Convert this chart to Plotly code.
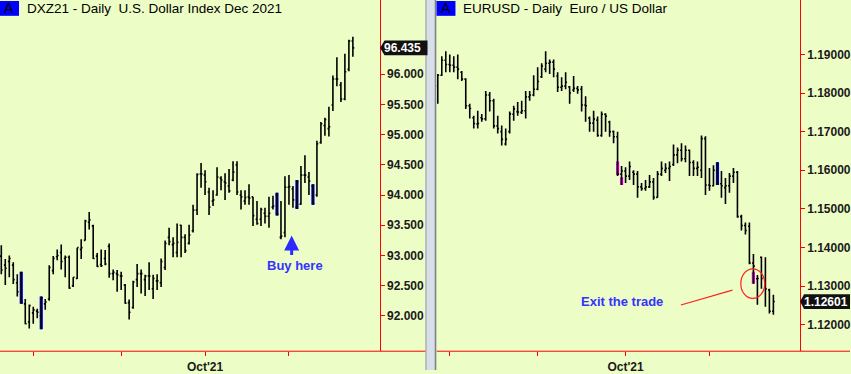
import plotly.graph_objects as go

W, H = 851, 374
BG = "#EDFDC6"
FONT = "Liberation Sans, Arial, sans-serif"

# ---------------- DXZ21 daily bars ----------------
dxy_open = [92.99, 92.84, 92.90, 92.84, 92.55, 92.70, 92.20, 91.90, 92.05, 92.08,
            92.00, 92.20, 92.28, 92.75, 92.98, 93.05, 92.95, 92.97, 92.50, 92.62,
            93.10, 93.25, 93.55, 93.49, 92.99, 92.85, 92.95, 93.15, 92.70, 92.70,
            92.66, 92.51, 92.22, 92.14, 92.60, 92.70, 92.60, 92.66, 92.45, 92.58,
            92.55, 92.80, 93.30, 93.18, 93.05, 93.50, 93.30, 93.20, 93.41, 93.75,
            94.35, 94.33, 94.05, 93.90, 94.00, 94.28, 94.22, 94.15, 94.25, 94.50,
            94.00, 93.90, 93.97, 93.97, 93.60, 93.60, 93.70, 93.65, 93.80, 94.00,
            93.30, 93.38, 94.13, 94.10, 93.80, 93.85, 94.33, 94.30, 94.15, 94.00,
            94.87, 95.15, 95.10, 95.49, 95.92, 95.82, 95.59, 96.08, 96.55]
dxy_high = [93.17, 92.94, 93.00, 92.89, 92.69, 92.73, 92.28, 92.19, 92.15, 92.12,
            92.32, 92.28, 92.84, 92.99, 93.10, 93.18, 93.00, 93.00, 92.64, 93.13,
            93.27, 93.59, 93.72, 93.51, 93.04, 93.10, 93.09, 93.20, 92.77, 92.76,
            92.73, 92.53, 92.27, 92.58, 92.86, 92.77, 92.68, 92.89, 92.68, 92.69,
            92.95, 93.25, 93.46, 93.30, 93.53, 93.51, 93.35, 93.51, 93.84, 94.36,
            94.53, 94.41, 94.12, 94.08, 94.46, 94.31, 94.36, 94.43, 94.56, 94.56,
            94.08, 94.08, 94.18, 93.97, 93.90, 93.79, 93.79, 93.97, 93.99, 94.04,
            93.90, 94.31, 94.33, 94.15, 94.25, 94.48, 94.66, 94.38, 94.18, 94.90,
            95.21, 95.28, 95.46, 95.98, 96.28, 95.87, 96.34, 96.57, 96.62]
dxy_low = [92.69, 92.51, 92.64, 92.53, 92.32, 92.20, 91.86, 91.79, 91.87, 91.96,
           91.78, 92.10, 92.25, 92.69, 92.92, 92.77, 92.64, 92.45, 92.48, 92.61,
           92.94, 93.25, 93.43, 92.94, 92.81, 92.81, 92.84, 92.63, 92.59, 92.40,
           92.43, 92.20, 91.94, 92.12, 92.48, 92.37, 92.33, 92.43, 92.28, 92.43,
           92.48, 92.76, 93.17, 92.97, 92.97, 92.97, 93.04, 93.18, 93.38, 93.67,
           94.12, 94.00, 93.67, 93.82, 93.99, 94.08, 93.92, 94.04, 94.23, 94.00,
           93.76, 93.84, 93.84, 93.49, 93.51, 93.49, 93.53, 93.46, 93.76, 93.66,
           93.27, 93.30, 93.84, 93.79, 93.77, 93.84, 94.20, 94.00, 93.84, 93.97,
           94.85, 94.98, 94.97, 95.39, 95.80, 95.54, 95.57, 96.05, 96.29]
dxy_close = [92.76, 92.79, 92.95, 92.60, 92.40, 92.22, 91.87, 92.17, 92.10, 92.06,
             92.30, 92.23, 92.80, 92.95, 93.00, 92.90, 92.97, 92.46, 92.64, 93.13,
             93.13, 93.57, 93.59, 92.95, 92.82, 92.83, 92.86, 92.70, 92.72, 92.68,
             92.66, 92.21, 92.06, 92.56, 92.70, 92.70, 92.66, 92.66, 92.62, 92.58,
             92.90, 93.20, 93.23, 93.20, 93.22, 93.30, 93.08, 93.34, 93.75, 94.34,
             94.35, 94.22, 93.80, 93.92, 94.30, 94.25, 94.20, 94.07, 94.38, 94.05,
             93.97, 93.96, 93.95, 93.66, 93.53, 93.76, 93.65, 93.70, 93.82, 93.68,
             93.32, 94.13, 94.14, 93.92, 94.22, 94.33, 94.33, 94.23, 93.86, 94.85,
             95.18, 95.25, 95.13, 95.92, 95.92, 95.59, 96.04, 96.55, 96.435]
dxy_paint_idx = [5, 10, 69, 74, 78]
dxy_month_idx = [8, 30, 51, 72]
dxy_month_labels = ["", "", "Oct'21", ""]
dxy_ticks = [92.0, 92.5, 93.0, 93.5, 94.0, 94.5, 95.0, 95.5, 96.0]

# ---------------- EURUSD daily bars ----------------
eur_open = [1.1818, 1.1846, 1.1885, 1.1874, 1.1872, 1.1867, 1.1854, 1.1836, 1.1767, 1.1736,
            1.1720, 1.1736, 1.1733, 1.1795, 1.1780, 1.1715, 1.1700, 1.1668, 1.1700, 1.1745,
            1.1752, 1.1750, 1.1754, 1.1790, 1.1795, 1.1810, 1.1842, 1.1862, 1.1877, 1.1880,
            1.1844, 1.1815, 1.1818, 1.1816, 1.1808, 1.1812, 1.1810, 1.1769, 1.1735, 1.1722,
            1.1730, 1.1690, 1.1745, 1.1725, 1.1700, 1.1687, 1.1590, 1.1598, 1.1585, 1.1595,
            1.1590, 1.1557, 1.1553, 1.1557, 1.1570, 1.1530, 1.1590, 1.1600, 1.1605, 1.1615,
            1.1640, 1.1652, 1.1630, 1.1652, 1.1620, 1.1605, 1.1600, 1.1682, 1.1562, 1.1560,
            1.1600, 1.1565, 1.1555, 1.1560, 1.1585, 1.1595, 1.1480, 1.1457, 1.1455, 1.1360,
            1.1319, 1.1375, 1.1310, 1.1290, 1.1235]
eur_high = [1.1849, 1.1895, 1.1908, 1.1900, 1.1895, 1.1900, 1.1857, 1.1838, 1.1772, 1.1741,
            1.1754, 1.1746, 1.1805, 1.1803, 1.1785, 1.1741, 1.1716, 1.1708, 1.1752, 1.1767,
            1.1777, 1.1780, 1.1805, 1.1805, 1.1846, 1.1867, 1.1877, 1.1908, 1.1887, 1.1887,
            1.1854, 1.1841, 1.1854, 1.1818, 1.1844, 1.1818, 1.1818, 1.1792, 1.1739, 1.1754,
            1.1739, 1.1752, 1.1748, 1.1728, 1.1703, 1.1700, 1.1611, 1.1608, 1.1623, 1.1600,
            1.1598, 1.1567, 1.1575, 1.1588, 1.1580, 1.1598, 1.1623, 1.1618, 1.1623, 1.1667,
            1.1659, 1.1670, 1.1664, 1.1654, 1.1626, 1.1623, 1.1690, 1.1688, 1.1606, 1.1613,
            1.1621, 1.1598, 1.1580, 1.1593, 1.1606, 1.1598, 1.1485, 1.1465, 1.1465, 1.1383,
            1.1329, 1.1377, 1.1375, 1.1293, 1.1278]
eur_low = [1.1772, 1.1844, 1.1854, 1.1854, 1.1854, 1.1836, 1.1831, 1.1759, 1.1734, 1.1708,
           1.1708, 1.1726, 1.1728, 1.1752, 1.1708, 1.1695, 1.1664, 1.1664, 1.1695, 1.1728,
           1.1741, 1.1746, 1.1734, 1.1780, 1.1792, 1.1807, 1.1839, 1.1854, 1.1849, 1.1841,
           1.1803, 1.1805, 1.1810, 1.1772, 1.1803, 1.1798, 1.1752, 1.1726, 1.1700, 1.1700,
           1.1687, 1.1687, 1.1700, 1.1687, 1.1670, 1.1585, 1.1562, 1.1567, 1.1575, 1.1562,
           1.1529, 1.1547, 1.1547, 1.1554, 1.1524, 1.1529, 1.1585, 1.1593, 1.1572, 1.1611,
           1.1618, 1.1623, 1.1621, 1.1585, 1.1585, 1.1585, 1.1580, 1.1536, 1.1547, 1.1558,
           1.1562, 1.1529, 1.1513, 1.1542, 1.1567, 1.1477, 1.1444, 1.1434, 1.1357, 1.1306,
           1.1252, 1.1293, 1.1247, 1.1229, 1.1226]
eur_close = [1.1846, 1.1885, 1.1874, 1.1872, 1.1867, 1.1862, 1.1836, 1.1767, 1.1760, 1.1721,
             1.1721, 1.1733, 1.1795, 1.1780, 1.1715, 1.1708, 1.1680, 1.1680, 1.1746, 1.1759,
             1.1751, 1.1754, 1.1790, 1.1795, 1.1810, 1.1830, 1.1870, 1.1877, 1.1880, 1.1862,
             1.1815, 1.1818, 1.1828, 1.1800, 1.1812, 1.1808, 1.1769, 1.1767, 1.1722, 1.1733,
             1.1690, 1.1745, 1.1740, 1.1700, 1.1687, 1.1590, 1.1598, 1.1585, 1.1610, 1.1590,
             1.1557, 1.1553, 1.1557, 1.1570, 1.1530, 1.1590, 1.1605, 1.1605, 1.1610, 1.1640,
             1.1652, 1.1630, 1.1652, 1.1620, 1.1605, 1.1608, 1.1682, 1.1562, 1.1560, 1.1600,
             1.1565, 1.1560, 1.1560, 1.1585, 1.1595, 1.1480, 1.1457, 1.1444, 1.1360, 1.1352,
             1.1320, 1.1320, 1.1293, 1.1235, 1.12601]
eur_paint_idx = [45, 46, 70, 79]
eur_paint_top = [1.1623, 1.1582, 1.1621, 1.1337]
eur_paint_bottom = [1.1588, 1.1562, 1.1562, 1.1306]
eur_paint_color = ["#FF00FF", "#FF00FF", "#0000FF", "#FF00FF"]
eur_month_idx = [3, 25, 47, 68]
eur_month_labels = ["", "", "Oct'21", ""]
eur_ticks = [1.12, 1.13, 1.14, 1.15, 1.16, 1.17, 1.18, 1.19]

# ---------------- layout geometry (pixels) ----------------
PLOT_BOTTOM = 355
L_X0, L_X1 = 0, 380
R_X0, R_X1 = 437, 800.7
DXY_RANGE = [91.416, 97.228]
EUR_RANGE = [1.11316, 1.20409]
DXY_XRANGE = [-0.325, 94.675]
EUR_XRANGE = [-0.325, 90.6]


def px(x):
    return x / W


def py(y):
    return 1 - y / H


fig = go.Figure()

bar_style = dict(line=dict(color="black", width=1.6))
fig.add_trace(go.Ohlc(x=list(range(len(dxy_close))), open=dxy_open, high=dxy_high,
                      low=dxy_low, close=dxy_close, increasing=bar_style,
                      decreasing=bar_style, tickwidth=0.35, hoverinfo="skip",
                      showlegend=False, xaxis="x", yaxis="y"))
fig.add_trace(go.Bar(x=dxy_paint_idx, base=[dxy_low[i] for i in dxy_paint_idx],
                     y=[dxy_high[i] - dxy_low[i] for i in dxy_paint_idx], width=0.8,
                     marker=dict(color="#0000FF", line=dict(width=0)),
                     hoverinfo="skip", showlegend=False, xaxis="x", yaxis="y"))

fig.add_trace(go.Ohlc(x=list(range(len(eur_close))), open=eur_open, high=eur_high,
                      low=eur_low, close=eur_close, increasing=bar_style,
                      decreasing=bar_style, tickwidth=0.35, hoverinfo="skip",
                      showlegend=False, xaxis="x2", yaxis="y2"))
fig.add_trace(go.Bar(x=eur_paint_idx, base=eur_paint_bottom,
                     y=[t - b for t, b in zip(eur_paint_top, eur_paint_bottom)], width=0.8,
                     marker=dict(color=eur_paint_color, line=dict(width=0)),
                     hoverinfo="skip", showlegend=False, xaxis="x2", yaxis="y2"))

tickfont = dict(family=FONT, size=12, color="#1a1a1a", weight="bold")
ydom = [1 - PLOT_BOTTOM / H, 1]


def xax(domain, rng, tv, tt, anchor):
    return dict(domain=domain, range=rng, anchor=anchor, showgrid=False, zeroline=False,
                showline=False, ticks="outside", ticklen=4, tickwidth=1,
                tickcolor="#FF0000", tickvals=tv, ticktext=tt, tickfont=tickfont,
                rangeslider=dict(visible=False), fixedrange=True)


def yax(anchor, rng, tv, fmt):
    return dict(domain=ydom, range=rng, side="right", anchor=anchor, showgrid=False,
                zeroline=False, showline=True, linecolor="#FF0000", linewidth=1,
                ticks="outside", ticklen=4, tickwidth=1, tickcolor="#FF0000",
                tickvals=tv, tickformat=fmt, tickfont=tickfont, fixedrange=True)


shapes = []
annotations = []

# bottom red axis lines
shapes.append(dict(type="line", xref="paper", yref="paper", x0=px(0), x1=px(427),
                   y0=py(PLOT_BOTTOM), y1=py(PLOT_BOTTOM), line=dict(color="#FF0000", width=1)))
shapes.append(dict(type="line", xref="paper", yref="paper", x0=px(R_X0), x1=px(W),
                   y0=py(PLOT_BOTTOM), y1=py(PLOT_BOTTOM), line=dict(color="#FF0000", width=1)))

# separator between the two panes
shapes.append(dict(type="rect", xref="paper", yref="paper", x0=px(426), x1=px(437),
                   y0=0, y1=1, fillcolor="#D7DFE8", line=dict(width=0), layer="above"))
shapes.append(dict(type="line", xref="paper", yref="paper", x0=px(426.5), x1=px(426.5),
                   y0=0, y1=1, line=dict(color="#9A9A9A", width=1), layer="above"))
shapes.append(dict(type="line", xref="paper", yref="paper", x0=px(436), x1=px(436),
                   y0=0, y1=1, line=dict(color="#808080", width=1.5), layer="above"))

# "A" boxes and titles
for x0, title in [(0, "DXZ21 - Daily  U.S. Dollar Index Dec 2021"),
                  (437, "EURUSD - Daily  Euro / US Dollar")]:
    shapes.append(dict(type="rect", xref="paper", yref="paper", x0=px(x0), x1=px(x0 + 19),
                       y0=py(16), y1=py(1), fillcolor="#0000FF", line=dict(width=0),
                       layer="above"))
    annotations.append(dict(text="A", xref="paper", yref="paper", x=px(x0 + 9.5),
                            y=py(8.5), xanchor="center", yanchor="middle", showarrow=False,
                            font=dict(family=FONT, size=14, color="black")))
    annotations.append(dict(text=title, xref="paper", yref="paper", x=px(x0 + 25),
                            y=py(8.5), xanchor="left", yanchor="middle", showarrow=False,
                            font=dict(family=FONT, size=13.5, color="black")))


# last-price tags
def tag(xref_y, value, x_tip, x_body, x_end, ppu, label, cx):
    h = 7.5 / ppu
    path = (f"M {px(x_tip)},{value} L {px(x_body)},{value + h} L {px(x_end)},{value + h} "
            f"L {px(x_end)},{value - h} L {px(x_body)},{value - h} Z")
    shapes.append(dict(type="path", xref="paper", yref=xref_y, path=path,
                       fillcolor="#111111", line=dict(width=0), layer="above"))
    annotations.append(dict(text=label, xref="paper", yref=xref_y, x=px(cx), y=value,
                            xanchor="center", yanchor="middle", showarrow=False,
                            font=dict(family=FONT, size=12, color="white", weight="bold")))


dxy_ppu = PLOT_BOTTOM / (DXY_RANGE[1] - DXY_RANGE[0])
eur_ppu = PLOT_BOTTOM / (EUR_RANGE[1] - EUR_RANGE[0])
tag("y", dxy_close[-1], 380.5, 385, 428, dxy_ppu, f"{dxy_close[-1]:.3f}", 403)
tag("y2", eur_close[-1], 801, 805, 851, eur_ppu, f"{eur_close[-1]:.5f}", 827)

# Buy here annotation
annotations.append(dict(text="", xref="paper", yref="paper", x=px(292), y=py(238),
                        ax=0, ay=21, showarrow=True, arrowhead=2, arrowsize=1,
                        arrowwidth=3, arrowcolor="#2B2BFF"))
annotations.append(dict(text="Buy here", xref="paper", yref="paper", x=px(295.5),
                        y=py(268), xanchor="center", yanchor="middle", showarrow=False,
                        font=dict(family=FONT, size=13, color="#3333FF", weight="bold")))

# Exit the trade annotation
annotations.append(dict(text="Exit the trade", xref="paper", yref="paper", x=px(622.3),
                        y=py(304.7), xanchor="center", yanchor="middle", showarrow=False,
                        font=dict(family=FONT, size=13, color="#3333FF", weight="bold")))
shapes.append(dict(type="line", xref="paper", yref="paper", x0=px(681.7), y0=py(308.3),
                   x1=px(733.3), y1=py(293.3), line=dict(color="#FF2020", width=1.2)))
shapes.append(dict(type="circle", xref="paper", yref="paper", x0=px(741.7), x1=px(765.7),
                   y0=py(301.7), y1=py(271.7), line=dict(color="#FF2020", width=1.2)))

fig.update_layout(
    width=W, height=H, autosize=False,
    margin=dict(l=0, r=0, t=0, b=0),
    paper_bgcolor=BG, plot_bgcolor=BG,
    showlegend=False, barmode="overlay",
    xaxis=xax([px(L_X0), px(L_X1)], DXY_XRANGE, dxy_month_idx, dxy_month_labels, "y"),
    yaxis=yax("x", DXY_RANGE, dxy_ticks, ".3f"),
    xaxis2=xax([px(R_X0), px(R_X1)], EUR_XRANGE, eur_month_idx, eur_month_labels, "y2"),
    yaxis2=yax("x2", EUR_RANGE, eur_ticks, ".5f"),
    shapes=shapes,
    annotations=annotations,
)

fig.write_html("out.html", config={"displayModeBar": False},
               post_script="document.body.style.margin='0';document.body.style.padding='0';"
                           "document.body.style.overflow='hidden';")
